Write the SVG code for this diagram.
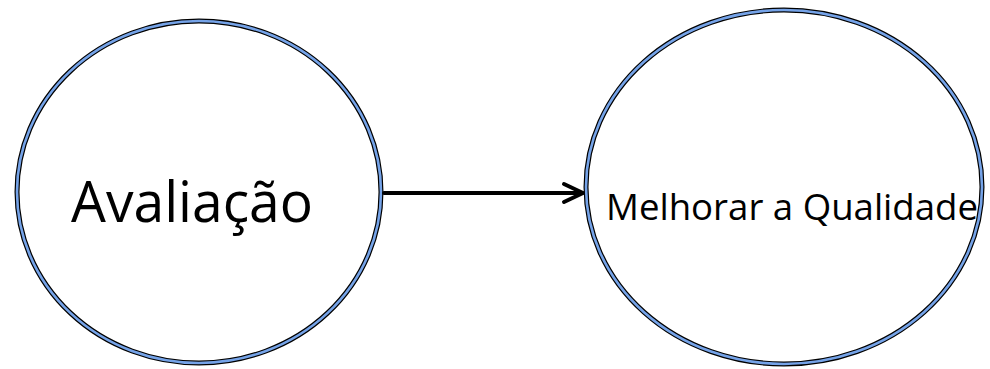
<svg xmlns="http://www.w3.org/2000/svg" width="990" height="369" viewBox="0 0 990 369">
<defs>
<style>
.outer{fill:#ffffff;stroke:#000000;stroke-width:5}
.inner{fill:none;stroke:#75a3e8;stroke-width:2.6}
.lbl{font-family:"Open Sans","Noto Sans",sans-serif;fill:#000000}
.conn{stroke:#000000;stroke-width:4;fill:none;stroke-linecap:round;stroke-linejoin:round}
</style>
</defs>
<g id="node-avaliacao">
<ellipse class="outer" cx="199" cy="192" rx="182" ry="171"/>
<ellipse class="inner" cx="199" cy="192" rx="182" ry="171"/>
<text class="lbl" x="71" y="222" font-size="57" textLength="242" lengthAdjust="spacingAndGlyphs">Avaliação</text>
</g>
<g id="node-melhorar">
<ellipse class="outer" cx="784" cy="187" rx="198" ry="177"/>
<ellipse class="inner" cx="784" cy="187" rx="198" ry="177"/>
<text class="lbl" x="606" y="220" font-size="36" textLength="372" lengthAdjust="spacingAndGlyphs">Melhorar a Qualidade</text>
</g>
<g id="connectors">
<line class="conn" x1="384" y1="193" x2="582" y2="193"/>
<polyline class="conn" points="564,184 583,193 564,202"/>
</g>
</svg>
